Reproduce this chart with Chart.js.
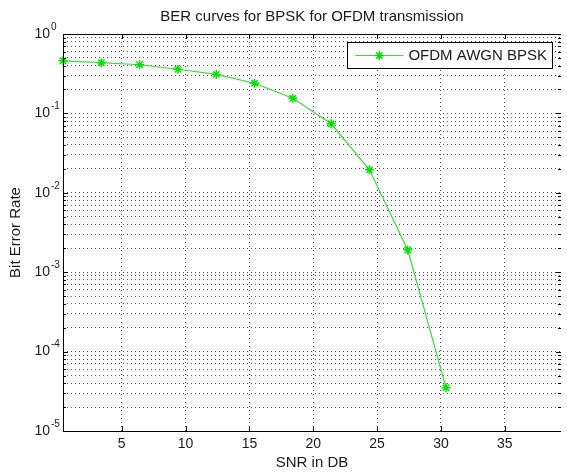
<!DOCTYPE html>
<html>
<head>
<meta charset="utf-8">
<script src="https://cdn.jsdelivr.net/npm/chart.js@4"></script>
<style>
  html, body { margin: 0; padding: 0; background: #fff; overflow: hidden; }
  canvas { display: block; }
</style>
</head>
<body>
<canvas id="ber-chart" width="567" height="474"></canvas>
<script>
const snrDb = [0.4, 3.4, 6.4, 9.4, 12.4, 15.4, 18.4, 21.4, 24.4, 27.4, 30.4];
const berBpsk = [0.46, 0.435, 0.41, 0.36, 0.31, 0.24, 0.155, 0.074, 0.0195, 0.0019, 0.000035];

const xTickValues = [5, 10, 15, 20, 25, 30, 35];
const yDecades = [-5, -4, -3, -2, -1, 0];
const yMinorSteps = [2, 3, 4, 5, 6, 7, 8, 9];

const chartTitle = "BER curves for BPSK for OFDM transmission";
const xTitle = "SNR in DB";
const yTitle = "Bit Error Rate";
const seriesLabel = "OFDM AWGN BPSK";

const FONT = '"Liberation Sans", Arial, sans-serif';
const TEXT = "#1a1a1a";
const GREEN = "#00e000";
const LINE_GREEN = "#3cd83c";
const GRID = "#555";

// every log grid line: 1..9 x 10^e
const yGridValues = [];
yDecades.forEach((e) => {
  yGridValues.push(Math.pow(10, e));
  if (e < 0) yMinorSteps.forEach((k) => yGridValues.push(k * Math.pow(10, e)));
});

const matlabAxes = {
  id: "matlabAxes",
  afterDatasetsDraw(chart) {
    const { ctx, chartArea: a, scales } = chart;
    const xs = scales.x;
    const ys = scales.y;
    ctx.save();
    ctx.strokeStyle = "#000";
    ctx.lineWidth = 1;

    // box (right edge sits off the canvas)
    ctx.beginPath();
    ctx.moveTo(a.right, Math.round(a.top) + 0.5);
    ctx.lineTo(Math.round(a.left) + 0.5, Math.round(a.top) + 0.5);
    ctx.lineTo(Math.round(a.left) + 0.5, Math.round(a.bottom) + 0.5);
    ctx.lineTo(a.right, Math.round(a.bottom) + 0.5);
    ctx.stroke();

    // inward ticks
    ctx.beginPath();
    xTickValues.forEach((v) => {
      const px = Math.round(xs.getPixelForValue(v)) + 0.5;
      ctx.moveTo(px, a.bottom);
      ctx.lineTo(px, a.bottom - 5);
      ctx.moveTo(px, a.top);
      ctx.lineTo(px, a.top + 5);
    });
    yGridValues.forEach((v) => {
      const py = Math.round(ys.getPixelForValue(v)) + 0.5;
      const major = Math.abs(Math.log10(v) - Math.round(Math.log10(v))) < 1e-9;
      const len = major ? 5 : 3;
      ctx.moveTo(a.left, py);
      ctx.lineTo(a.left + len, py);
      ctx.moveTo(a.right, py);
      ctx.lineTo(a.right - len, py);
    });
    ctx.stroke();

    // y tick labels 10^e
    ctx.fillStyle = TEXT;
    yDecades.forEach((e) => {
      const py = ys.getPixelForValue(Math.pow(10, e));
      ctx.font = "14px " + FONT;
      ctx.textAlign = "right";
      ctx.textBaseline = "middle";
      ctx.fillText("10", a.left - 13, py);
      ctx.font = "10px " + FONT;
      ctx.textAlign = "left";
      ctx.fillText(String(e), a.left - 12, py - 7);
    });

    // title
    ctx.font = "15px " + FONT;
    ctx.textAlign = "center";
    ctx.textBaseline = "middle";
    ctx.fillText(chartTitle, (a.left + a.right) / 2, 17);

    // legend box
    ctx.font = "15px " + FONT;
    const tw = ctx.measureText(seriesLabel).width;
    const w = 8 + 48 + 5 + tw + 5;
    const h = 26;
    const right = a.right - 9;
    const left = right - w;
    const top = a.top + 8;
    ctx.fillStyle = "#fff";
    ctx.fillRect(Math.round(left) + 0.5, top + 0.5, Math.round(w), h);
    ctx.strokeStyle = "#000";
    ctx.strokeRect(Math.round(left) + 0.5, top + 0.5, Math.round(w), h);
    const my = top + h / 2 + 0.5;
    ctx.strokeStyle = LINE_GREEN;
    ctx.beginPath();
    ctx.moveTo(left + 8, my);
    ctx.lineTo(left + 56, my);
    ctx.stroke();
    ctx.strokeStyle = GREEN;
    ctx.lineWidth = 1.5;
    Chart.helpers.drawPoint(ctx, { pointStyle: "star", radius: 4.5, rotation: 0, borderWidth: 1.5 }, left + 32, my);
    ctx.fillStyle = TEXT;
    ctx.textAlign = "left";
    ctx.textBaseline = "middle";
    ctx.fillText(seriesLabel, left + 61, my);
    ctx.restore();
  },
};

new Chart(document.getElementById("ber-chart"), {
  type: "line",
  data: {
    datasets: [
      {
        label: seriesLabel,
        data: snrDb.map((x, i) => ({ x, y: berBpsk[i] })),
        borderColor: LINE_GREEN,
        backgroundColor: GREEN,
        borderWidth: 1.2,
        tension: 0,
        pointStyle: "star",
        pointRadius: 4.5,
        pointBorderWidth: 1.5,
        pointBorderColor: GREEN,
        clip: false,
      },
    ],
  },
  options: {
    responsive: false,
    animation: false,
    layout: { padding: { top: 34, left: 0, right: 0, bottom: 0 } },
    plugins: {
      legend: { display: false },
      title: { display: false },
      tooltip: { enabled: false },
    },
    scales: {
      x: {
        type: "linear",
        min: 0.4,
        max: 39.4,
        afterBuildTicks: (scale) => {
          scale.ticks = xTickValues.map((value) => ({ value }));
        },
        afterFit: (scale) => {
          scale.height = 43;
        },
        ticks: {
          autoSkip: false,
          maxRotation: 0,
          padding: 5,
          color: TEXT,
          font: { family: FONT, size: 14 },
        },
        grid: { color: GRID, lineWidth: 1, drawTicks: false },
        border: { display: false, dash: [1, 3] },
        title: {
          display: true,
          text: xTitle,
          color: TEXT,
          font: { family: FONT, size: 15 },
          padding: { top: 0, bottom: 2 },
        },
      },
      y: {
        type: "logarithmic",
        min: 0.00001,
        max: 1,
        afterBuildTicks: (scale) => {
          scale.ticks = yGridValues.map((value) => ({ value }));
        },
        afterFit: (scale) => {
          scale.width = 63;
        },
        ticks: { display: false, autoSkip: false },
        grid: { color: GRID, lineWidth: 1, drawTicks: false },
        border: { display: false, dash: [1, 3] },
        title: {
          display: true,
          text: yTitle,
          color: TEXT,
          font: { family: FONT, size: 15 },
          padding: { top: 7, bottom: 0 },
        },
      },
    },
  },
  plugins: [matlabAxes],
});
</script>
</body>
</html>
